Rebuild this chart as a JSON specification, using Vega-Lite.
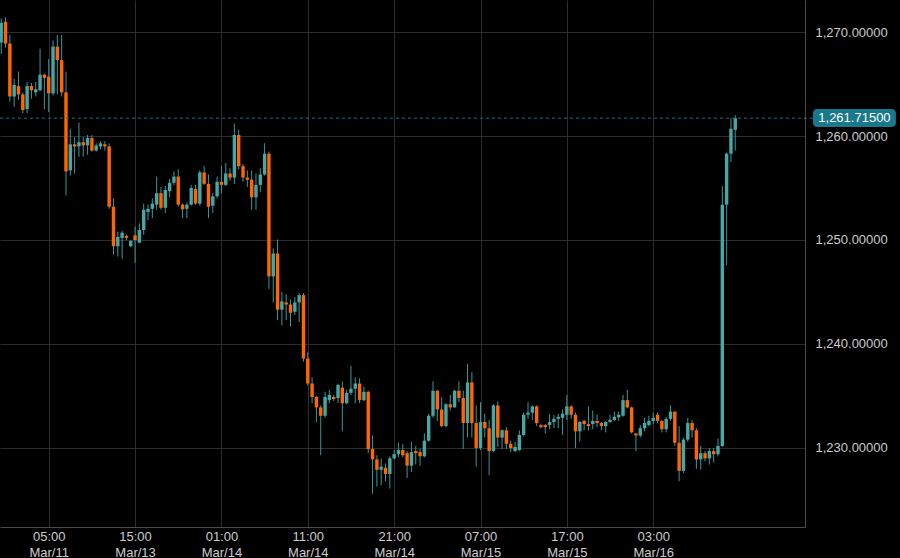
{
  "$schema": "https://vega.github.io/schema/vega-lite/v6.json",
  "width": 805,
  "height": 527,
  "autosize": "none",
  "padding": {"left": 0, "top": 0, "right": 95, "bottom": 31},
  "background": "#000000",
  "config": {"view": {"stroke": null}, "font": "Liberation Sans"},
  "datasets": {
    "candles": [
      {"i":-11,"open":1269.0,"high":1271.3,"low":1267.9,"close":1270.9},
      {"i":-10,"open":1271.0,"high":1271.4,"low":1268.5,"close":1268.9},
      {"i":-9,"open":1268.9,"high":1269.7,"low":1263.3,"close":1263.8},
      {"i":-8,"open":1263.8,"high":1265.5,"low":1262.8,"close":1264.9},
      {"i":-7,"open":1264.8,"high":1266.2,"low":1263.5,"close":1264.0},
      {"i":-6,"open":1264.0,"high":1264.2,"low":1262.2,"close":1262.5},
      {"i":-5,"open":1262.6,"high":1265.2,"low":1262.2,"close":1264.8},
      {"i":-4,"open":1264.8,"high":1265.1,"low":1263.6,"close":1264.4},
      {"i":-3,"open":1264.2,"high":1265.2,"low":1263.8,"close":1264.5},
      {"i":-2,"open":1264.4,"high":1268.4,"low":1264.3,"close":1265.9},
      {"i":-1,"open":1265.9,"high":1266.0,"low":1262.6,"close":1265.6},
      {"i":0,"open":1265.7,"high":1267.4,"low":1262.3,"close":1264.1},
      {"i":1,"open":1264.1,"high":1269.2,"low":1263.9,"close":1268.6},
      {"i":2,"open":1268.6,"high":1269.7,"low":1264.0,"close":1267.3},
      {"i":3,"open":1267.3,"high":1269.7,"low":1263.8,"close":1264.2},
      {"i":4,"open":1264.2,"high":1266.2,"low":1254.3,"close":1256.6},
      {"i":5,"open":1256.7,"high":1260.7,"low":1256.2,"close":1259.2},
      {"i":6,"open":1259.2,"high":1259.9,"low":1256.4,"close":1259.0},
      {"i":7,"open":1259.0,"high":1261.3,"low":1258.0,"close":1259.4},
      {"i":8,"open":1259.4,"high":1259.9,"low":1258.0,"close":1259.1},
      {"i":9,"open":1259.1,"high":1260.1,"low":1258.2,"close":1259.8},
      {"i":10,"open":1259.8,"high":1260.1,"low":1258.5,"close":1258.6},
      {"i":11,"open":1258.6,"high":1259.3,"low":1258.5,"close":1259.1},
      {"i":12,"open":1259.0,"high":1259.5,"low":1258.7,"close":1259.3},
      {"i":13,"open":1259.2,"high":1259.5,"low":1258.6,"close":1259.0},
      {"i":14,"open":1259.0,"high":1259.3,"low":1253.0,"close":1253.2},
      {"i":15,"open":1253.2,"high":1254.0,"low":1248.6,"close":1249.4},
      {"i":16,"open":1249.4,"high":1250.8,"low":1248.4,"close":1250.3},
      {"i":17,"open":1250.2,"high":1250.9,"low":1248.2,"close":1250.7},
      {"i":18,"open":1250.4,"high":1250.5,"low":1250.0,"close":1250.2},
      {"i":19,"open":1249.4,"high":1250.0,"low":1249.3,"close":1249.9},
      {"i":20,"open":1250.45,"high":1251.3,"low":1247.8,"close":1250.0},
      {"i":21,"open":1249.74,"high":1251.6,"low":1249.7,"close":1250.96},
      {"i":22,"open":1250.96,"high":1253.5,"low":1250.5,"close":1252.9},
      {"i":23,"open":1252.7,"high":1253.4,"low":1251.9,"close":1253.0},
      {"i":24,"open":1253.0,"high":1254.0,"low":1252.1,"close":1253.5},
      {"i":25,"open":1253.4,"high":1256.1,"low":1252.9,"close":1254.5},
      {"i":26,"open":1254.5,"high":1255.1,"low":1252.9,"close":1253.1},
      {"i":27,"open":1253.1,"high":1255.2,"low":1252.6,"close":1254.8},
      {"i":28,"open":1254.7,"high":1255.9,"low":1254.1,"close":1255.5},
      {"i":29,"open":1255.5,"high":1256.6,"low":1255.3,"close":1256.1},
      {"i":30,"open":1256.1,"high":1256.8,"low":1253.2,"close":1253.4},
      {"i":31,"open":1253.4,"high":1253.5,"low":1252.1,"close":1252.95},
      {"i":32,"open":1253.0,"high":1253.6,"low":1252.1,"close":1253.4},
      {"i":33,"open":1253.4,"high":1255.3,"low":1253.3,"close":1255.0},
      {"i":34,"open":1254.9,"high":1255.3,"low":1253.4,"close":1253.5},
      {"i":35,"open":1253.5,"high":1256.7,"low":1253.3,"close":1256.5},
      {"i":36,"open":1256.5,"high":1257.1,"low":1255.3,"close":1255.4},
      {"i":37,"open":1255.4,"high":1256.3,"low":1252.1,"close":1253.2},
      {"i":38,"open":1253.3,"high":1254.5,"low":1252.6,"close":1254.2},
      {"i":39,"open":1254.2,"high":1256.1,"low":1254.0,"close":1255.6},
      {"i":40,"open":1255.6,"high":1257.1,"low":1254.5,"close":1255.3},
      {"i":41,"open":1255.3,"high":1257.4,"low":1255.2,"close":1256.4},
      {"i":42,"open":1256.4,"high":1256.9,"low":1255.7,"close":1256.0},
      {"i":43,"open":1256.0,"high":1261.2,"low":1255.4,"close":1260.1},
      {"i":44,"open":1260.1,"high":1260.6,"low":1256.8,"close":1257.1},
      {"i":45,"open":1257.1,"high":1257.3,"low":1255.6,"close":1256.0},
      {"i":46,"open":1256.0,"high":1256.7,"low":1255.1,"close":1255.8},
      {"i":47,"open":1255.8,"high":1256.7,"low":1252.9,"close":1254.1},
      {"i":48,"open":1254.1,"high":1256.4,"low":1252.9,"close":1255.3},
      {"i":49,"open":1255.3,"high":1256.9,"low":1254.6,"close":1256.3},
      {"i":50,"open":1256.3,"high":1259.3,"low":1256.2,"close":1258.3},
      {"i":51,"open":1258.3,"high":1258.5,"low":1245.3,"close":1246.5},
      {"i":52,"open":1246.5,"high":1249.2,"low":1244.0,"close":1248.7},
      {"i":53,"open":1248.7,"high":1250.05,"low":1242.3,"close":1243.3},
      {"i":54,"open":1243.3,"high":1245.0,"low":1241.8,"close":1244.1},
      {"i":55,"open":1244.0,"high":1244.8,"low":1242.3,"close":1243.8},
      {"i":56,"open":1243.8,"high":1244.3,"low":1241.7,"close":1243.0},
      {"i":57,"open":1243.1,"high":1244.5,"low":1242.8,"close":1244.0},
      {"i":58,"open":1244.0,"high":1244.9,"low":1242.1,"close":1244.7},
      {"i":59,"open":1244.7,"high":1244.9,"low":1238.3,"close":1238.6},
      {"i":60,"open":1238.6,"high":1239.2,"low":1236.0,"close":1236.2},
      {"i":61,"open":1236.2,"high":1236.8,"low":1234.3,"close":1234.9},
      {"i":62,"open":1234.9,"high":1235.0,"low":1232.5,"close":1233.9},
      {"i":63,"open":1233.9,"high":1234.1,"low":1229.3,"close":1233.1},
      {"i":64,"open":1233.1,"high":1235.4,"low":1232.9,"close":1234.9},
      {"i":65,"open":1234.6,"high":1235.6,"low":1234.3,"close":1235.1},
      {"i":66,"open":1234.9,"high":1235.1,"low":1234.5,"close":1234.7},
      {"i":67,"open":1234.8,"high":1236.2,"low":1234.3,"close":1236.06},
      {"i":68,"open":1235.8,"high":1236.4,"low":1231.6,"close":1234.3},
      {"i":69,"open":1234.3,"high":1235.6,"low":1234.2,"close":1235.3},
      {"i":70,"open":1235.3,"high":1237.9,"low":1235.1,"close":1235.7},
      {"i":71,"open":1235.7,"high":1236.8,"low":1234.3,"close":1236.2},
      {"i":72,"open":1236.2,"high":1236.7,"low":1234.3,"close":1234.6},
      {"i":73,"open":1234.6,"high":1235.9,"low":1234.5,"close":1235.4},
      {"i":74,"open":1235.4,"high":1235.5,"low":1229.5,"close":1229.9},
      {"i":75,"open":1229.9,"high":1231.2,"low":1225.6,"close":1228.9},
      {"i":76,"open":1228.9,"high":1229.3,"low":1226.3,"close":1227.9},
      {"i":77,"open":1227.9,"high":1229.0,"low":1226.4,"close":1228.2},
      {"i":78,"open":1228.1,"high":1228.5,"low":1226.8,"close":1227.5},
      {"i":79,"open":1227.5,"high":1229.2,"low":1226.1,"close":1229.0},
      {"i":80,"open":1229.0,"high":1229.8,"low":1228.9,"close":1229.4},
      {"i":81,"open":1229.4,"high":1230.5,"low":1229.1,"close":1229.8},
      {"i":82,"open":1229.8,"high":1230.4,"low":1229.1,"close":1229.3},
      {"i":83,"open":1229.5,"high":1229.7,"low":1227.1,"close":1228.3},
      {"i":84,"open":1228.3,"high":1230.6,"low":1227.7,"close":1229.6},
      {"i":85,"open":1229.7,"high":1230.2,"low":1228.4,"close":1229.5},
      {"i":86,"open":1229.6,"high":1229.9,"low":1228.3,"close":1229.2},
      {"i":87,"open":1229.2,"high":1231.4,"low":1229.1,"close":1230.7},
      {"i":88,"open":1230.7,"high":1233.3,"low":1230.6,"close":1233.1},
      {"i":89,"open":1233.1,"high":1236.4,"low":1232.9,"close":1235.5},
      {"i":90,"open":1235.5,"high":1235.6,"low":1232.6,"close":1233.7},
      {"i":91,"open":1233.7,"high":1234.9,"low":1232.0,"close":1232.1},
      {"i":92,"open":1232.1,"high":1234.3,"low":1232.0,"close":1234.2},
      {"i":93,"open":1234.2,"high":1235.1,"low":1233.6,"close":1233.9},
      {"i":94,"open":1233.9,"high":1235.6,"low":1233.9,"close":1235.5},
      {"i":95,"open":1235.5,"high":1236.4,"low":1234.4,"close":1234.8},
      {"i":96,"open":1234.8,"high":1235.5,"low":1229.9,"close":1232.4},
      {"i":97,"open":1232.4,"high":1238.1,"low":1231.0,"close":1236.3},
      {"i":98,"open":1236.3,"high":1237.3,"low":1231.0,"close":1232.4},
      {"i":99,"open":1232.4,"high":1234.1,"low":1228.2,"close":1230.0},
      {"i":100,"open":1230.0,"high":1234.4,"low":1229.8,"close":1232.5},
      {"i":101,"open":1232.5,"high":1233.3,"low":1231.0,"close":1231.9},
      {"i":102,"open":1231.9,"high":1232.7,"low":1227.4,"close":1229.7},
      {"i":103,"open":1229.7,"high":1234.2,"low":1229.6,"close":1234.1},
      {"i":104,"open":1234.1,"high":1234.5,"low":1230.1,"close":1231.0},
      {"i":105,"open":1231.0,"high":1231.8,"low":1229.9,"close":1231.7},
      {"i":106,"open":1231.7,"high":1232.0,"low":1229.9,"close":1230.4},
      {"i":107,"open":1230.4,"high":1230.7,"low":1229.6,"close":1230.0},
      {"i":108,"open":1229.7,"high":1230.6,"low":1229.6,"close":1230.1},
      {"i":109,"open":1229.8,"high":1231.7,"low":1229.7,"close":1231.25},
      {"i":110,"open":1231.25,"high":1233.4,"low":1231.1,"close":1233.2},
      {"i":111,"open":1233.2,"high":1234.4,"low":1232.8,"close":1233.4},
      {"i":112,"open":1233.4,"high":1234.1,"low":1232.7,"close":1234.0},
      {"i":113,"open":1234.0,"high":1234.1,"low":1232.1,"close":1232.4},
      {"i":114,"open":1232.2,"high":1232.3,"low":1231.9,"close":1232.0},
      {"i":115,"open":1232.2,"high":1232.3,"low":1231.4,"close":1232.0},
      {"i":116,"open":1232.2,"high":1233.3,"low":1231.8,"close":1232.5},
      {"i":117,"open":1232.5,"high":1233.2,"low":1231.9,"close":1232.8},
      {"i":118,"open":1232.8,"high":1233.3,"low":1231.9,"close":1233.0},
      {"i":119,"open":1232.9,"high":1233.7,"low":1231.25,"close":1233.3},
      {"i":120,"open":1233.2,"high":1235.1,"low":1232.7,"close":1234.0},
      {"i":121,"open":1234.0,"high":1234.1,"low":1232.8,"close":1233.2},
      {"i":122,"open":1233.2,"high":1233.4,"low":1230.0,"close":1231.6},
      {"i":123,"open":1231.6,"high":1232.6,"low":1230.6,"close":1232.5},
      {"i":124,"open":1232.6,"high":1232.7,"low":1231.7,"close":1232.3},
      {"i":125,"open":1232.3,"high":1234.0,"low":1231.7,"close":1232.1},
      {"i":126,"open":1232.3,"high":1233.6,"low":1231.8,"close":1232.6},
      {"i":127,"open":1232.6,"high":1233.2,"low":1232.0,"close":1232.4},
      {"i":128,"open":1232.4,"high":1232.5,"low":1231.7,"close":1232.1},
      {"i":129,"open":1232.1,"high":1232.6,"low":1231.5,"close":1232.5},
      {"i":130,"open":1232.5,"high":1233.2,"low":1232.4,"close":1232.7},
      {"i":131,"open":1232.7,"high":1233.5,"low":1232.6,"close":1233.0},
      {"i":132,"open":1232.95,"high":1233.5,"low":1232.6,"close":1233.2},
      {"i":133,"open":1233.1,"high":1235.1,"low":1233.0,"close":1234.6},
      {"i":134,"open":1234.6,"high":1235.6,"low":1233.8,"close":1233.9},
      {"i":135,"open":1233.9,"high":1234.0,"low":1231.4,"close":1231.5},
      {"i":136,"open":1231.4,"high":1231.4,"low":1229.7,"close":1231.2},
      {"i":137,"open":1231.2,"high":1232.2,"low":1231.0,"close":1231.9},
      {"i":138,"open":1231.9,"high":1232.9,"low":1231.6,"close":1232.4},
      {"i":139,"open":1232.2,"high":1233.1,"low":1232.1,"close":1232.6},
      {"i":140,"open":1232.6,"high":1233.4,"low":1232.3,"close":1232.9},
      {"i":141,"open":1233.2,"high":1233.4,"low":1232.4,"close":1232.6},
      {"i":142,"open":1232.6,"high":1232.7,"low":1231.5,"close":1231.8},
      {"i":143,"open":1231.8,"high":1233.0,"low":1231.5,"close":1232.8},
      {"i":144,"open":1232.8,"high":1234.1,"low":1232.6,"close":1233.5},
      {"i":145,"open":1233.5,"high":1233.5,"low":1230.2,"close":1230.5},
      {"i":146,"open":1230.5,"high":1232.1,"low":1226.8,"close":1227.8},
      {"i":147,"open":1227.8,"high":1231.0,"low":1227.6,"close":1230.8},
      {"i":148,"open":1230.8,"high":1232.9,"low":1230.6,"close":1232.4},
      {"i":149,"open":1232.4,"high":1232.7,"low":1231.0,"close":1231.7},
      {"i":150,"open":1231.7,"high":1231.9,"low":1228.0,"close":1228.9},
      {"i":151,"open":1228.9,"high":1230.2,"low":1227.9,"close":1229.5},
      {"i":152,"open":1229.5,"high":1229.7,"low":1228.7,"close":1229.0},
      {"i":153,"open":1229.0,"high":1230.0,"low":1228.4,"close":1229.7},
      {"i":154,"open":1229.7,"high":1230.0,"low":1228.6,"close":1229.4},
      {"i":155,"open":1229.4,"high":1230.9,"low":1229.2,"close":1230.2},
      {"i":156,"open":1230.2,"high":1255.2,"low":1230.1,"close":1253.4},
      {"i":157,"open":1253.4,"high":1258.4,"low":1247.6,"close":1258.3},
      {"i":158,"open":1258.3,"high":1261.7,"low":1257.5,"close":1260.7},
      {"i":159,"open":1260.6,"high":1262.0,"low":1258.6,"close":1261.715}
    ],
    "last": [
      {"price": 1261.715, "label": "1,261.71500", "xStart": -11.28, "xEnd": 177.0, "boxLeft": 177.0, "boxRight": 196.2, "boxMid": 186.6, "boxTop": 1262.6, "boxBottom": 1260.87}
    ]
  },
  "layer": [
    {
      "data": {"name": "candles"},
      "mark": {"type": "rule", "strokeWidth": 1, "color": "#3b9797", "clip": true},
      "encoding": {
        "x": {
          "field": "i", "type": "quantitative",
          "scale": {"domain": [-11.28, 175.15], "nice": false, "zero": false, "padding": 0},
          "axis": {
            "values": [0, 20, 40, 60, 80, 100, 120, 140],
            "labelExpr": "split(['05:00|Mar/11','15:00|Mar/13','01:00|Mar/14','11:00|Mar/14','21:00|Mar/14','07:00|Mar/15','17:00|Mar/15','03:00|Mar/16'][datum.value/20], '|')",
            "title": null, "grid": true, "gridColor": "#2d2d2d", "gridWidth": 1,
            "domainColor": "#4a4a4a", "ticks": false, "labelColor": "#cccccc",
            "labelFontSize": 13, "labelPadding": 3, "labelLineHeight": 16, "labelFont": "Liberation Sans"
          }
        },
        "y": {
          "field": "low", "type": "quantitative",
          "scale": {"domain": [1222.4, 1273.08], "nice": false, "zero": false},
          "axis": {
            "orient": "right", "values": [1230, 1240, 1250, 1260, 1270], "format": ",.5f",
            "title": null, "grid": true, "gridColor": "#2d2d2d", "gridWidth": 1,
            "domainColor": "#4a4a4a", "ticks": false, "labelColor": "#cccccc",
            "labelFontSize": 13, "labelPadding": 10, "labelFont": "Liberation Sans"
          }
        },
        "y2": {"field": "high"}
      }
    },
    {
      "data": {"name": "candles"},
      "mark": {"type": "bar", "size": 3.4, "clip": true},
      "encoding": {
        "x": {"field": "i", "type": "quantitative"},
        "y": {"field": "open", "type": "quantitative"},
        "y2": {"field": "close"},
        "color": {"condition": {"test": "datum.close >= datum.open", "value": "#47a7a7"}, "value": "#ff6600"}
      }
    },
    {
      "data": {"name": "last"},
      "mark": {"type": "rule", "strokeWidth": 1, "strokeDash": [3, 3], "color": "#1f6f7f"},
      "encoding": {
        "x": {"field": "xStart", "type": "quantitative"},
        "x2": {"field": "xEnd"},
        "y": {"field": "price", "type": "quantitative"}
      }
    },
    {
      "data": {"name": "last"},
      "mark": {"type": "rect", "color": "#17798b", "cornerRadius": 4},
      "encoding": {
        "x": {"field": "boxLeft", "type": "quantitative"},
        "x2": {"field": "boxRight"},
        "y": {"field": "boxTop", "type": "quantitative"},
        "y2": {"field": "boxBottom"}
      }
    },
    {
      "data": {"name": "last"},
      "mark": {"type": "text", "color": "#ffffff", "fontSize": 13, "font": "Liberation Sans", "align": "center", "baseline": "middle"},
      "encoding": {
        "x": {"field": "boxMid", "type": "quantitative"},
        "y": {"field": "price", "type": "quantitative"},
        "text": {"field": "label"}
      }
    }
  ]
}
